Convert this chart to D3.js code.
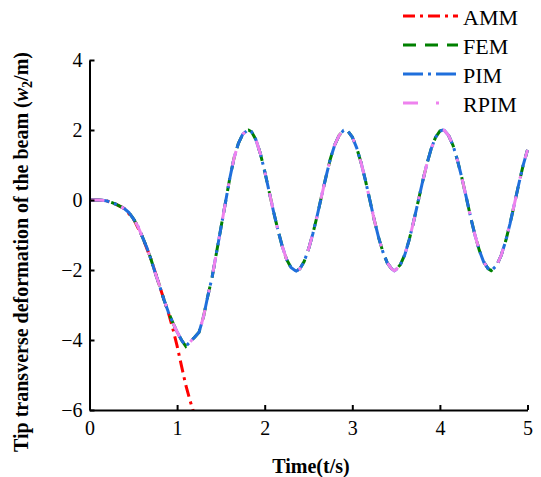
<!DOCTYPE html>
<meta charset="utf-8">
<style>
body{
  margin: 0;
  background-color: white;
}
text{
  font-family: "Liberation Serif", "Times New Roman", serif;
}
</style>
<body>
<svg class="chart"></svg>
<script src="https://d3js.org/d3.v7.min.js"></script>
<script>
// time values (s) shared by FEM, PIM and RPIM
var times = [0, 0.05, 0.1, 0.15, 0.2, 0.25, 0.3, 0.35, 0.4, 0.45, 0.5, 0.55, 0.6, 0.65, 0.7, 0.75,
  0.8, 0.85, 0.9, 0.95, 1.0, 1.05, 1.1, 1.15, 1.2, 1.25, 1.3, 1.35, 1.4, 1.45, 1.5, 1.55, 1.6,
  1.65, 1.7, 1.75, 1.8, 1.815, 1.85, 1.9, 1.95, 2.0, 2.05, 2.1, 2.15, 2.2, 2.25, 2.3, 2.35, 2.36,
  2.4, 2.45, 2.5, 2.55, 2.6, 2.65, 2.7, 2.75, 2.8, 2.85, 2.9, 2.92, 2.95, 3.0, 3.05, 3.1, 3.15,
  3.2, 3.25, 3.3, 3.35, 3.4, 3.45, 3.48, 3.5, 3.55, 3.6, 3.65, 3.7, 3.75, 3.8, 3.85, 3.9, 3.95,
  4.0, 4.03, 4.05, 4.1, 4.15, 4.2, 4.25, 4.3, 4.35, 4.4, 4.45, 4.5, 4.55, 4.585, 4.6, 4.65, 4.7,
  4.75, 4.8, 4.85, 4.9, 4.95, 5.0];

// tip deflection (FEM / PIM / RPIM overlap)
var femW = [0, 0, 0, -0.01, -0.03, -0.07, -0.12, -0.18, -0.25, -0.36, -0.53, -0.74, -1.03, -1.33,
  -1.68, -2.08, -2.45, -2.85, -3.2, -3.5, -3.77, -4.0, -4.18, -4.05, -3.92, -3.78, -3.35, -2.75,
  -2.2, -1.5, -0.8, -0.1, 0.6, 1.2, 1.62, 1.88, 1.99, 2.0, 1.95, 1.72, 1.33, 0.82, 0.25, -0.32,
  -0.85, -1.32, -1.7, -1.93, -2.02, -2.03, -1.97, -1.76, -1.41, -0.96, -0.44, 0.12, 0.67, 1.18,
  1.58, 1.85, 1.99, 2.0, 1.97, 1.8, 1.49, 1.07, 0.56, 0, -0.56, -1.07, -1.49, -1.8, -1.97, -2.02,
  -1.99, -1.84, -1.56, -1.13, -0.62, -0.06, 0.5, 1.02, 1.46, 1.79, 1.97, 2.0, 1.99, 1.84, 1.56,
  1.14, 0.64, 0.09, -0.48, -1.0, -1.44, -1.77, -1.96, -2.02, -1.99, -1.86, -1.58, -1.18, -0.68,
  -0.12, 0.45, 0.99, 1.43];
var pimW = femW.slice();
var rpimW = femW.slice();

// AMM, which leaves the others near 0.9 s
var ammT = [0, 0.1, 0.2, 0.3, 0.4, 0.5, 0.6, 0.7, 0.8, 0.85, 0.9, 0.95, 1.0, 1.05, 1.1, 1.15, 1.2];
var ammW = [0, 0, -0.03, -0.12, -0.25, -0.53, -1.03, -1.68, -2.45, -2.85, -3.22, -3.66, -4.17,
  -4.74, -5.3, -5.75, -6.15];

var xTicks = [0, 1, 2, 3, 4, 5];
var yTicks = [-6, -4, -2, 0, 2, 4];

var w = 541, h = 477;
var svg = d3.select('svg').attr('width', w).attr('height', h);

var x = d3.scaleLinear().domain([0, 5]).range([89.5, 527.5]);
var y = d3.scaleLinear().domain([-6, 4]).range([410, 60]);

svg.append('clipPath').attr('id', 'plot')
  .append('rect')
  .attr('x', x(0)).attr('y', y(4) - 4)
  .attr('width', x(5) - x(0) + 4).attr('height', y(-6) - y(4) + 4);

var series = [
  {name: 'AMM', t: ammT, v: ammW, color: '#ff0000', dash: '12,5,3,5', lx2: 458},
  {name: 'FEM', t: times, v: femW, color: '#008000', dash: '13,9', lx2: 458},
  {name: 'PIM', t: times, v: pimW, color: '#1f6fdc', dash: '20,5,3,5', lx2: 458},
  {name: 'RPIM', t: times, v: rpimW, color: '#ee82ee', dash: '15,18,3,18', lx2: 441}
];

var line = d3.line()
  .x(function (d) { return x(d[0]); })
  .y(function (d) { return y(d[1]); });

var lines = svg.append('g').attr('clip-path', 'url(#plot)');
series.forEach(function (s) {
  var pts = s.t.map(function (t, i) { return [t, s.v[i]]; });
  lines.append('path')
    .attr('d', line(pts))
    .attr('fill', 'none')
    .attr('stroke', s.color)
    .attr('stroke-width', 3)
    .attr('stroke-dasharray', s.dash);
});

// axes, ticks pointing inward
var xAxis = svg.append('g')
  .attr('transform', 'translate(0,' + y(-6) + ')')
  .call(d3.axisBottom(x).tickValues(xTicks).tickFormat(d3.format('d'))
    .tickSizeInner(-5).tickSizeOuter(0).tickPadding(11));
var yAxis = svg.append('g')
  .attr('transform', 'translate(' + x(0) + ',0)')
  .call(d3.axisLeft(y).tickValues(yTicks).tickFormat(d3.format('d'))
    .tickSizeInner(-5).tickSizeOuter(0).tickPadding(7));

[xAxis, yAxis].forEach(function (a) {
  a.select('.domain').attr('stroke', '#000').attr('stroke-width', 2);
  a.selectAll('.tick line').attr('stroke', '#000').attr('stroke-width', 2);
  a.selectAll('.tick text')
    .attr('font-family', '"Liberation Serif", serif')
    .attr('font-size', 20)
    .attr('fill', '#000');
});

// axis titles
svg.append('text')
  .attr('x', 311).attr('y', 473)
  .attr('text-anchor', 'middle')
  .attr('font-size', 20).attr('font-weight', 'bold')
  .text('Time(t/s)');

var yl = svg.append('text')
  .attr('transform', 'translate(28,252) rotate(-90)')
  .attr('text-anchor', 'middle')
  .attr('font-size', 20).attr('font-weight', 'bold');
yl.append('tspan').text('Tip transverse deformation of the beam (');
yl.append('tspan').attr('font-style', 'italic').text('w');
yl.append('tspan').attr('font-size', 14).attr('dy', 4).text('2');
yl.append('tspan').attr('dy', -4).text('/m)');

// legend
var legend = svg.append('g');
series.forEach(function (s, i) {
  var ly = 16 + i * 29;
  legend.append('line')
    .attr('x1', 403).attr('x2', s.lx2)
    .attr('y1', ly).attr('y2', ly)
    .attr('stroke', s.color)
    .attr('stroke-width', 3)
    .attr('stroke-dasharray', s.dash);
  legend.append('text')
    .attr('x', 463).attr('y', ly + 9)
    .attr('font-size', 22)
    .text(s.name);
});
</script>
</body>
